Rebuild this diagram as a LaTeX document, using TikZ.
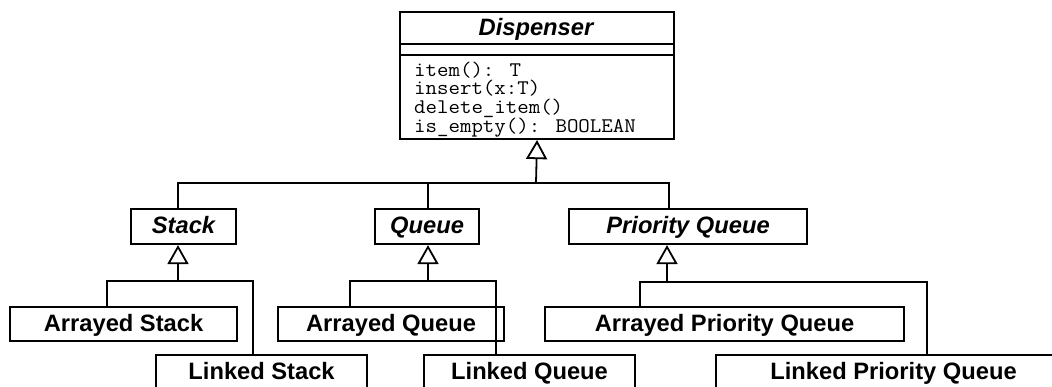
\documentclass[tikz,border=0pt]{standalone}
\usepackage{fontspec}
\usepackage{graphicx}
\setmainfont{Liberation Sans}
\usetikzlibrary{arrows.meta}
\newcommand{\mtxt}[1]{\scalebox{1.07}[1]{#1}}
\tikzset{
  cls/.style={draw, line width=2.1pt, inner sep=0pt, text height=24.5pt, anchor=north west,
    font=\bfseries\fontsize{23.7}{28}\selectfont},
  meth/.style={inner sep=0pt, anchor=base west, text height=13pt, text depth=3pt,
    font=\ttfamily\fontsize{20.8}{19}\selectfont},
  conn/.style={line width=1.8pt},
  inh/.style={line width=1.8pt, -{Triangle[open, length=19pt, width=21pt]}}
}
\begin{document}
\begin{tikzpicture}[x=1pt,y=-1pt]
\useasboundingbox (0,0) rectangle (1052,386);
\fill[white] (0,0) rectangle (1052,386);
\clip (0,0) rectangle (1052,386);
% Dispenser
\node[draw, line width=2.1pt, inner sep=0pt, anchor=north west, minimum width=274pt, minimum height=127pt] (disp) at (399,11) {};
\draw[line width=2.1pt] ([yshift=-33pt]disp.north west) -- ([yshift=-33pt]disp.north east);
\draw[line width=2.1pt] ([yshift=-44pt]disp.north west) -- ([yshift=-44pt]disp.north east);
\node[inner sep=0pt, anchor=base, font=\bfseries\itshape\fontsize{23.7}{28}\selectfont] (dtitle) at (536,35) {Dispenser};
\node[meth] (m1) at (414,76) {\mtxt{item(): T}};
\node[meth] (m2) at (414,94.8) {\mtxt{insert(x:T)}};
\node[meth] (m3) at (414,113.5) {\mtxt{delete\_item()}};
\node[meth] (m4) at (414,132.3) {\mtxt{is\_empty(): BOOLEAN}};
% abstract classes
\node[cls, minimum width=105pt, text depth=10.5pt] (stack) at (130,208) {\itshape Stack};
\node[cls, minimum width=104pt, text depth=10.5pt] (queue) at (374,208) {\itshape Queue};
\node[cls, minimum width=238pt, text depth=10.5pt] (pq) at (568,208) {\itshape Priority Queue};
% concrete classes
\node[cls, minimum width=227pt, text depth=9.5pt] (ast) at (9,306) {Arrayed Stack};
\node[cls, minimum width=226pt, text depth=9.5pt] (aq) at (277,306) {Arrayed Queue};
\node[cls, minimum width=359pt, text depth=9.5pt] (apq) at (544,306) {Arrayed Priority Queue};
\node[cls, minimum width=211pt, text depth=21.5pt] (lst) at (155,354) {Linked Stack};
\node[cls, minimum width=211pt, text depth=21.5pt] (lq) at (423,354) {Linked Queue};
\node[cls, minimum width=355pt, text depth=21.5pt] (lpq) at (715,354) {Linked Priority Queue};
% helper coordinates
\coordinate (b0) at (536,183);
\coordinate (xs) at (178,183);
\coordinate (xq) at (428,183);
\coordinate (xp) at (669,183);
\coordinate (s0) at (178,281);
\coordinate (sl) at (107,281);
\coordinate (sr) at (253,281);
\coordinate (q0) at (428,281);
\coordinate (ql) at (350,281);
\coordinate (qr) at (496,281);
\coordinate (p0) at (667,282);
\coordinate (pl) at (640,282);
\coordinate (pr) at (927,282);
% top level generalization
\draw[inh] (b0) -- (disp.south);
\draw[conn] (stack.north -| xs) -- (xs) -- (xp) -- (pq.north -| xp);
\draw[conn] (queue.north -| xq) -- (xq);
% Stack family
\draw[inh] (s0) -- (stack.south -| s0);
\draw[conn] (ast.north -| sl) -- (sl) -- (sr) -- (lst.north -| sr);
% Queue family
\draw[inh] (q0) -- (queue.south -| q0);
\draw[conn] (aq.north -| ql) -- (ql) -- (qr) -- (lq.north -| qr);
% Priority Queue family
\draw[inh] (p0) -- (pq.south -| p0);
\draw[conn] (apq.north -| pl) -- (pl) -- (pr) -- (lpq.north -| pr);
\end{tikzpicture}
\end{document}
